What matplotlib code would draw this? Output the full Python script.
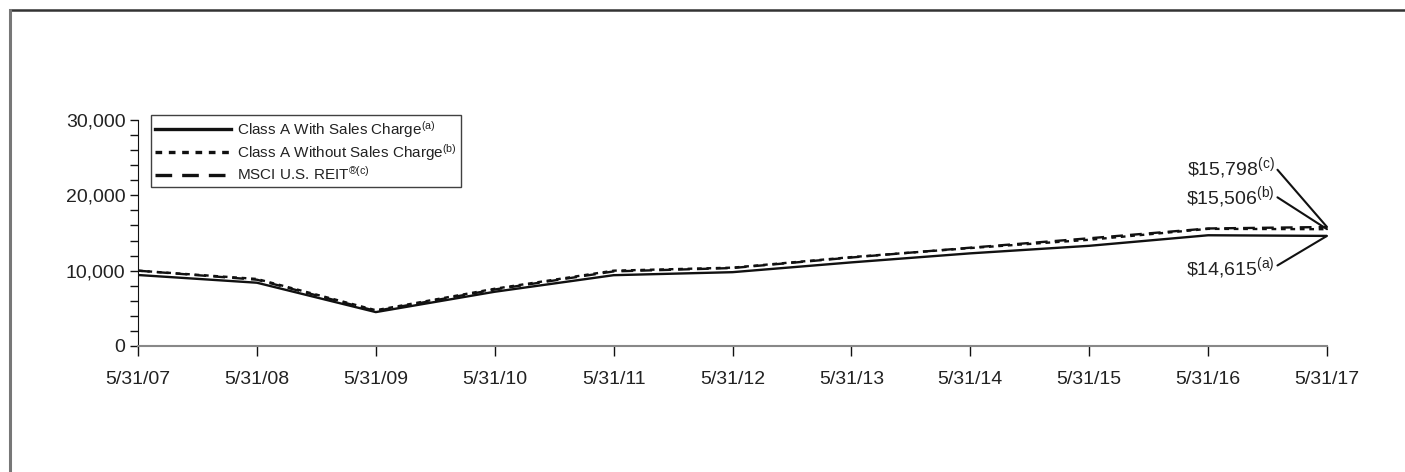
import matplotlib
matplotlib.use("Agg")
import matplotlib.pyplot as plt
from matplotlib.lines import Line2D
from matplotlib.ticker import MultipleLocator

plt.rcParams['font.family'] = ['Liberation Sans', 'DejaVu Sans']
plt.rcParams['mathtext.default'] = 'regular'

dates = ["5/31/07", "5/31/08", "5/31/09", "5/31/10", "5/31/11", "5/31/12",
         "5/31/13", "5/31/14", "5/31/15", "5/31/16", "5/31/17"]
with_charge = [9425, 8400, 4500, 7200, 9400, 9800, 11100, 12300, 13300, 14700, 14615]
without_charge = [10000, 8900, 4750, 7600, 10000, 10400, 11800, 13000, 14100, 15550, 15506]
msci = [10000, 8800, 4650, 7500, 9900, 10350, 11750, 13050, 14300, 15600, 15798]
labels = ["Class A With Sales Charge$^{(a)}$",
          "Class A Without Sales Charge$^{(b)}$",
          "MSCI U.S. REIT$^{\u00ae(c)}$"]
end_labels = [r"\$15,798$^{(c)}$", r"\$15,506$^{(b)}$", r"\$14,615$^{(a)}$"]
end_values = [msci[-1], without_charge[-1], with_charge[-1]]
end_text_y = [23650, 19800, 10300]

W, H = 1405, 472
fig = plt.figure(figsize=(W / 100, H / 100), dpi=100)

# outer frame (top and left edges)
fig.add_artist(Line2D([10 / W, 1], [1 - 10 / H, 1 - 10 / H], color='#333333', lw=1.8))
fig.add_artist(Line2D([10 / W, 10 / W], [1 - 10 / H, 0], color='#777777', lw=2.2))

ax = fig.add_axes([138 / W, 1 - 346 / H, (1327 - 138) / W, (346 - 120) / H])
x = list(range(len(dates)))
ax.plot(x, with_charge, color='#111111', lw=1.7, linestyle='-', label=labels[0])
ax.plot(x, without_charge, color='#111111', lw=1.7, linestyle=(0, (2, 2)), label=labels[1])
ax.plot(x, msci, color='#111111', lw=1.7, linestyle=(0, (5, 3)), label=labels[2])

ax.set_xlim(0, 10)
ax.set_ylim(0, 30000)
ax.set_xticks(x)
ax.set_xticklabels(dates)
ax.set_yticks([0, 10000, 20000, 30000])
ax.set_yticklabels(["0", "10,000", "20,000", "30,000"])
ax.yaxis.set_minor_locator(MultipleLocator(2000))

for s in ['top', 'right']:
    ax.spines[s].set_visible(False)
ax.spines['left'].set_color('#111111')
ax.spines['bottom'].set_color('#888888')
ax.spines['bottom'].set_linewidth(1.5)
ax.tick_params(axis='y', direction='out', length=6, width=1, color='#111111',
               labelsize=14, labelcolor='#222222', pad=3)
ax.tick_params(axis='y', which='minor', direction='out', length=6, width=1, color='#111111')
ax.tick_params(axis='x', direction='out', length=7, width=1, color='#111111',
               labelsize=14, labelcolor='#222222', pad=11)

leg = ax.legend(loc='upper left', bbox_to_anchor=(13 / 1189, 1.022), fontsize=11,
                frameon=True, fancybox=False, edgecolor='#111111', borderpad=0.25,
                borderaxespad=0, handlelength=5.0, handletextpad=0.4, labelspacing=0.15)
leg.get_frame().set_linewidth(1.0)
for t in leg.get_texts():
    t.set_color('#222222')
for h in leg.get_lines():
    h.set_linewidth(2.4)

for lab, val, ty in zip(end_labels, end_values, end_text_y):
    ax.annotate(lab, xy=(10, val), xytext=(9.56, ty), ha='right', va='center',
                fontsize=14, color='#222222',
                arrowprops=dict(arrowstyle='-', color='#111111', lw=1.5,
                                shrinkA=0, shrinkB=0, relpos=(1.0, 0.55)),
                annotation_clip=False)

fig.savefig("out.png", dpi=100)
